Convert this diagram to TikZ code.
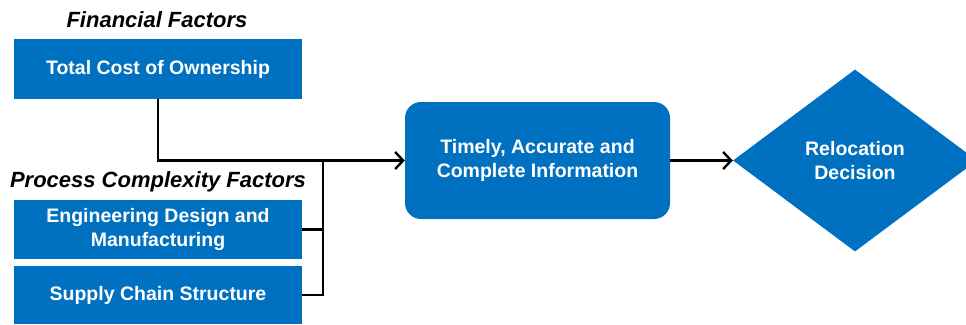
\documentclass[tikz,border=0pt]{standalone}
\usepackage{fontspec}
\setmainfont{Liberation Sans}
\usepackage{tikz}
\usetikzlibrary{arrows.meta,shapes,positioning,calc}
\usepackage{xcolor}
\definecolor{boxblue}{RGB}{0,112,192}
\tikzstyle{factor} = [rectangle, minimum width=288pt, minimum height=59pt, text centered, fill=boxblue, text=white, font=\fontsize{19.5}{24}\selectfont\bfseries, inner sep=0pt, align=center]
\tikzstyle{heading} = [font=\fontsize{22}{26}\selectfont\bfseries\itshape, inner sep=0pt]
\tikzstyle{infobox} = [rectangle, rounded corners=16pt, minimum width=265pt, minimum height=117pt, text centered, fill=boxblue, text=white, font=\fontsize{19.5}{24}\selectfont\bfseries, align=center]
\tikzstyle{decision} = [diamond, minimum width=244pt, minimum height=182pt, inner sep=0pt, fill=boxblue, text=white, font=\fontsize{19.5}{24}\selectfont\bfseries, align=center]
\tikzstyle{link} = [line width=2.4pt, black]
\tikzstyle{arrow} = [line width=2.4pt, black, -{Straight Barb[length=8pt,width=17pt,line width=2.4pt]}]

\begin{document}
\begin{tikzpicture}[x=1pt, y=1pt]
\useasboundingbox (0,0) rectangle (966,-324);
% Financial factors
\node[heading] (fin) at (157,-20) {Financial Factors};
\node[factor, minimum height=60pt] (tco) at (158,-69) {Total Cost of Ownership};

% Process complexity factors
\node[heading] (proc) at (158,-182) {Process Complexity Factors};
\node[factor] (eng) at (158,-229.5) {Engineering Design and\\Manufacturing};
\node[factor, minimum height=58pt] (scs) at (158,-295) {Supply Chain Structure};

% Information and decision
\node[infobox] (info) at (537.5,-160.5) {Timely, Accurate and\\Complete Information};
\node[decision] (dec) at (855,-160.5) {Relocation\\Decision};

% Junction of the process factors
\coordinate (join) at (323,-160.5);

% Connections
\draw[arrow] (tco.south) |- (info.west);
\draw[link] (eng.east) -| (join);
\draw[link] (scs.east) -| (join);
\draw[arrow] (info.east) -- (dec.west);
\end{tikzpicture}
\end{document}
